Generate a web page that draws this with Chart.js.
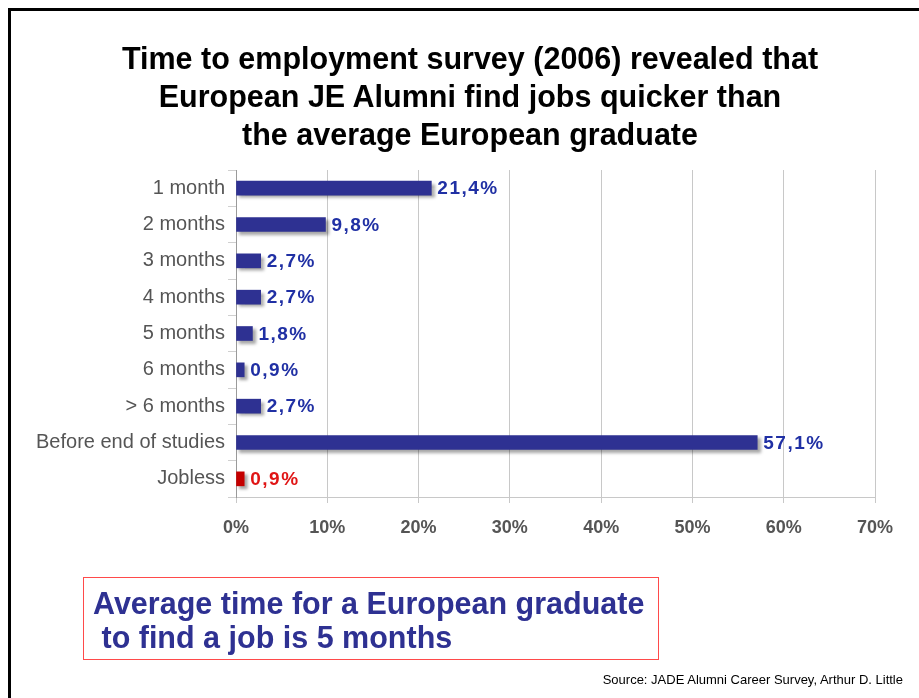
<!DOCTYPE html>
<html>
<head>
<meta charset="utf-8">
<title>Time to employment survey (2006)</title>
<script src="https://cdn.jsdelivr.net/npm/chart.js@4/dist/chart.umd.min.js"></script>
<style>
  html, body { margin: 0; padding: 0; background: #fff; }
  body { width: 919px; height: 698px; position: relative; overflow: hidden; font-family: Arial, "Liberation Sans", sans-serif; }
  #frame { position: absolute; left: 8px; top: 8px; width: 1000px; height: 1000px; border: 3px solid #000; }
  #chartWrap { position: absolute; left: 0; top: 0; width: 919px; height: 698px; }
  #title { position: absolute; left: 20px; width: 900px; top: 39px; text-align: center; font-weight: bold; font-size: 30.5px; line-height: 38px; color: #000; }
  #note { position: absolute; left: 83px; top: 577px; width: 576px; height: 83px; border: 1px solid #ff4a4a; box-sizing: border-box; color: #2e3192; font-weight: bold; font-size: 30.5px; line-height: 34px; padding: 8px 0 0 9px; white-space: pre; }
  #source { position: absolute; right: 16px; top: 672px; font-size: 13px; color: #000; }
</style>
</head>
<body>
<div id="frame"></div>
<div id="chartWrap"><canvas id="jobsChart" width="919" height="698"></canvas></div>
<div id="title">Time to employment survey (2006) revealed that<br>European JE Alumni find jobs quicker than<br>the average European graduate</div>
<div id="note">Average time for a European graduate
 to find a job is 5 months</div>
<div id="source">Source: JADE Alumni Career Survey, Arthur D. Little</div>

<script>
// survey answers, share of alumni in %
const categories = ['1 month', '2 months', '3 months', '4 months', '5 months',
  '6 months', '> 6 months', 'Before end of studies', 'Jobless'];
const shares = [21.4, 9.8, 2.7, 2.7, 1.8, 0.9, 2.7, 57.1, 0.9];
const xTicks = [0, 10, 20, 30, 40, 50, 60, 70];

const blue = '#2e3192';
const red = '#c40000';
const barColors = categories.map(c => c === 'Jobless' ? red : blue);
const labelColors = categories.map(c => c === 'Jobless' ? '#e01515' : '#2030a4');

// soft drop shadow under the bars
const barShadow = {
  id: 'barShadow',
  beforeDatasetsDraw(chart) {
    const ctx = chart.ctx;
    ctx.save();
    ctx.shadowColor = 'rgba(0,0,0,0.35)';
    ctx.shadowOffsetX = 3;
    ctx.shadowOffsetY = 3;
    ctx.shadowBlur = 3;
  },
  afterDatasetsDraw(chart) {
    chart.ctx.restore();
  }
};

// value printed after each bar end, with comma decimals
const valueLabels = {
  id: 'valueLabels',
  afterDatasetsDraw(chart) {
    const ctx = chart.ctx;
    const meta = chart.getDatasetMeta(0);
    ctx.save();
    ctx.font = 'bold 19px Arial, "Liberation Sans", sans-serif';
    ctx.letterSpacing = '1.5px';
    ctx.textAlign = 'left';
    ctx.textBaseline = 'middle';
    meta.data.forEach((bar, i) => {
      const v = shares[i];
      ctx.fillStyle = labelColors[i];
      ctx.fillText(v.toFixed(1).replace('.', ',') + '%', bar.x + 6, bar.y + 1);
    });
    ctx.restore();
  }
};

new Chart(document.getElementById('jobsChart'), {
  type: 'bar',
  data: {
    labels: categories,
    datasets: [{
      data: shares,
      backgroundColor: barColors,
      borderWidth: 0,
      barThickness: 14
    }]
  },
  options: {
    indexAxis: 'y',
    responsive: false,
    animation: false,
    layout: { padding: { left: 0, right: 44, top: 170, bottom: 141 } },
    plugins: {
      legend: { display: false },
      tooltip: { enabled: false }
    },
    scales: {
      x: {
        min: 0,
        max: 70,
        afterBuildTicks(scale) {
          scale.ticks = xTicks.map(v => ({ value: v }));
        },
        afterFit(scale) { scale.height = 60; },
        grid: { color: '#c8c8c8', lineWidth: 1, tickLength: 6 },
        border: { color: '#c8c8c8' },
        ticks: {
          padding: 14,
          color: '#555',
          font: { family: 'Arial, "Liberation Sans", sans-serif', size: 18, weight: 'bold' },
          callback: v => v + '%'
        }
      },
      y: {
        afterFit(scale) { scale.width = 236; },
        grid: { drawOnChartArea: false, color: '#d0d0d0', tickLength: 8 },
        border: { color: '#9a9a9a' },
        ticks: {
          padding: 3,
          color: '#555',
          font: { family: 'Arial, "Liberation Sans", sans-serif', size: 20 }
        }
      }
    }
  },
  plugins: [barShadow, valueLabels]
});
</script>
</body>
</html>
